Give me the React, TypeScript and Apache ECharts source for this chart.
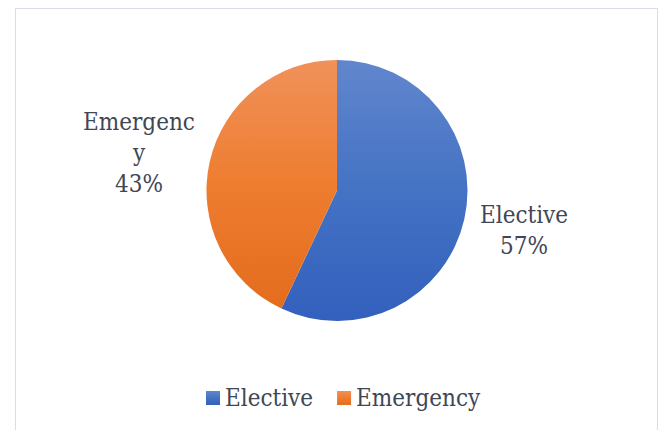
import React, { useEffect, useRef } from "react";
import * as echarts from "echarts";

const categories = ["Elective", "Emergency"];
const values = [57, 43];

const FONT = "DejaVu Serif Condensed";
const TEXT = "#3f4756";

export default function App() {
  const ref = useRef<HTMLDivElement>(null);
  useEffect(() => {
    if (!ref.current) return;
    const chart = echarts.init(ref.current, null, { renderer: "svg" });
    const grad = (top: string, mid: string, bottom: string) =>
      new echarts.graphic.LinearGradient(0, 0, 0, 1, [
        { offset: 0, color: top },
        { offset: 0.5, color: mid },
        { offset: 1, color: bottom },
      ]);
    const fills = [
      grad("#6186cd", "#4472c4", "#3260bd"),
      grad("#f0915a", "#ee7d30", "#e46c1d"),
    ];
    const labelPos = [
      { x: 524, y: 230 },
      { x: 139, y: 153 },
    ];
    chart.setOption({
      animation: false,
      textStyle: { fontFamily: FONT },
      legend: {
        bottom: 15,
        left: 201,
        icon: "rect",
        itemWidth: 14,
        itemHeight: 14,
        itemGap: 24,
        textStyle: { fontFamily: FONT, fontSize: 24, color: TEXT },
        data: categories,
      },
      series: [
        {
          type: "pie",
          center: [337, 190.5],
          radius: 130.5,
          startAngle: 90,
          clockwise: true,
          label: {
            show: true,
            position: "outside",
            formatter: "{b}\n{d}%",
            fontFamily: FONT,
            fontSize: 24,
            lineHeight: 31,
            color: TEXT,
            align: "center",
          },
          labelLine: { show: false },
          labelLayout: (p: any) => ({
            x: labelPos[p.dataIndex].x,
            y: labelPos[p.dataIndex].y,
            align: "center",
            verticalAlign: "middle",
          }),
          emphasis: { disabled: true },
          data: categories.map((name, i) => ({
            name,
            value: values[i],
            itemStyle: { color: fills[i] },
            label:
              i === 1
                ? { width: 112, overflow: "breakAll" }
                : {},
          })),
        },
      ],
    });
    return () => chart.dispose();
  }, []);
  return (
    <>
      <div
        style={{
          position: "fixed",
          left: 15,
          top: 8,
          width: 643,
          height: 440,
          boxSizing: "border-box",
          border: "1px solid #d9dee6",
          background: "#fff",
        }}
      />
      <div
        ref={ref}
        style={{ position: "fixed", left: 0, top: 0, width: 659, height: 430 }}
      />
    </>
  );
}
